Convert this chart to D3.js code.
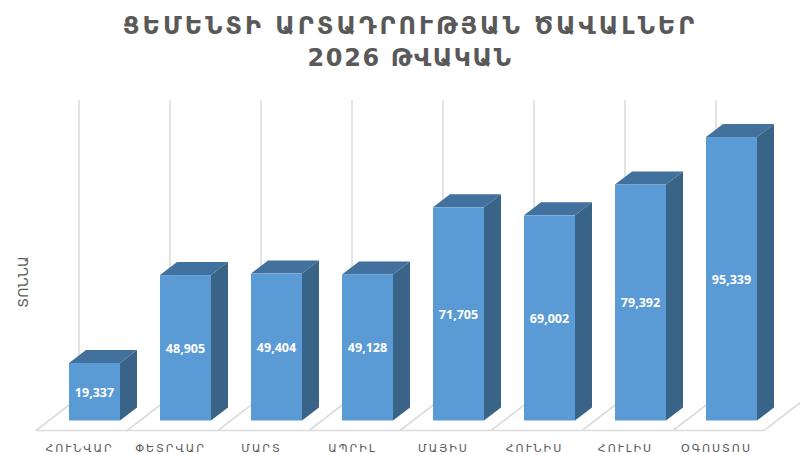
<!DOCTYPE html>
<html>
<head>
<meta charset="utf-8">
<script src="https://cdn.jsdelivr.net/npm/d3@7"></script>
<style>
  html, body { margin: 0; padding: 0; background: #fff; }
  text { font-family: "DejaVu Sans", sans-serif; }
</style>
</head>
<body>
<div id="chart"></div>
<script>
const months = ['ՀՈՒՆՎԱՐ', 'ՓԵՏՐՎԱՐ', 'ՄԱՐՏ', 'ԱՊՐԻԼ', 'ՄԱՅԻՍ', 'ՀՈՒՆԻՍ', 'ՀՈՒԼԻՍ', 'ՕԳՈՍՏՈՍ'];
const tons = [19337, 48905, 49404, 49128, 71705, 69002, 79392, 95339];
const titleLines = ['ՑԵՄԵՆՏԻ ԱՐՏԱԴՐՈՒԹՅԱՆ ԾԱՎԱԼՆԵՐ', '2026 ԹՎԱԿԱՆ'];
const yTitle = 'ՏՈՆՆԱ';

const width = 800, height = 455;
const svg = d3.select('#chart').append('svg')
    .attr('width', width)
    .attr('height', height)
    .style('display', 'block');

// step comes out at 91px, bars 51px wide
const x = d3.scaleBand().domain(months).range([36, 790]).paddingInner(40 / 91).paddingOuter(33 / 91);
const y = d3.scaleLinear().domain([0, 100000]).range([420.5, 123.2]);

const depthX = 17, depthY = 13;           // bar depth
const floorX = 43, floorY = 33;           // floor depth
const floorLeft = 36, floorFront = 430.5, gridTop = 100;
const step = x.step();

const grid = svg.append('g').attr('stroke', '#dcdcdc').attr('stroke-width', 1.6).attr('fill', 'none');

d3.range(months.length + 1).forEach(i => {
    const left = floorLeft + i * step;
    grid.append('path')
        .attr('d', `M${left},${floorFront}L${left + floorX},${floorFront - floorY}L${left + floorX},${gridTop}`);
});
grid.append('line')
    .attr('x1', floorLeft).attr('x2', floorLeft + months.length * step)
    .attr('y1', floorFront).attr('y2', floorFront);

const bars = svg.selectAll('.bar')
    .data(months.map((m, i) => ({ month: m, value: tons[i] })))
    .enter().append('g')
    .attr('class', 'bar');

// top face
bars.append('path')
    .attr('fill', '#41719c')
    .attr('d', d => {
        const l = x(d.month), r = l + x.bandwidth(), t = y(d.value);
        return `M${l},${t}L${l + depthX},${t - depthY}L${r + depthX},${t - depthY}L${r},${t}Z`;
    });

// side face
bars.append('path')
    .attr('fill', '#396487')
    .attr('d', d => {
        const r = x(d.month) + x.bandwidth(), t = y(d.value), b = y(0);
        return `M${r},${t}L${r + depthX},${t - depthY}L${r + depthX},${b - depthY}L${r},${b}Z`;
    });

// front face
bars.append('rect')
    .attr('fill', '#5b9bd5')
    .attr('x', d => x(d.month))
    .attr('y', d => y(d.value))
    .attr('width', x.bandwidth())
    .attr('height', d => y(0) - y(d.value));

bars.append('text')
    .attr('x', d => x(d.month) + x.bandwidth() / 2)
    .attr('y', d => (y(d.value) + y(0)) / 2 + 5)
    .attr('text-anchor', 'middle')
    .attr('fill', '#fff')
    .style('font-family', '"Open Sans", sans-serif')
    .style('font-size', '12.5px')
    .style('font-weight', 700)
    .text(d => d3.format(',')(d.value));

// month labels sit left of the bars, centred on the floor slot
svg.selectAll('.month')
    .data(months)
    .enter().append('text')
    .attr('class', 'month')
    .attr('x', d => x(d) + x.bandwidth() / 2 - 15)
    .attr('y', 451.5)
    .attr('text-anchor', 'middle')
    .attr('fill', '#595959')
    .style('font-size', '11px')
    .style('letter-spacing', '2px')
    .text(d => d);

svg.append('text')
    .attr('transform', 'translate(28,282) rotate(-90)')
    .attr('text-anchor', 'middle')
    .attr('fill', '#595959')
    .style('font-size', '14px')
    .text(yTitle);

svg.selectAll('.title')
    .data(titleLines)
    .enter().append('text')
    .attr('class', 'title')
    .attr('x', 410)
    .attr('y', (d, i) => 34 + i * 32)
    .attr('text-anchor', 'middle')
    .attr('fill', '#595959')
    .style('font-size', '24px')
    .style('font-weight', 700)
    .style('letter-spacing', (d, i) => i === 0 ? '3px' : '1.6px')
    .text(d => d);
</script>
</body>
</html>
